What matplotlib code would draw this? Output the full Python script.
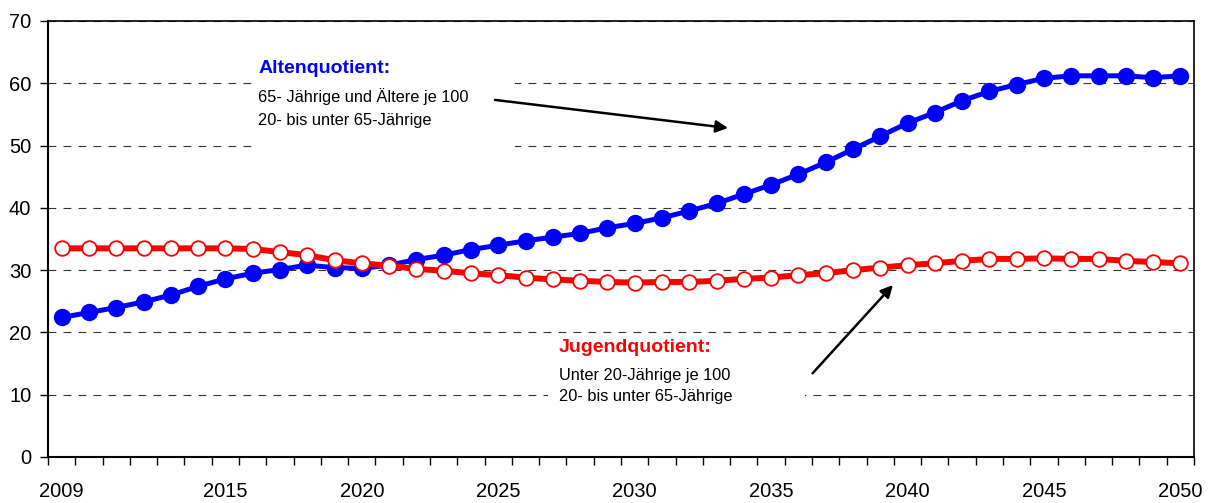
import numpy as np
import matplotlib
matplotlib.use("Agg")
import matplotlib.pyplot as plt
from matplotlib.patches import Rectangle
from matplotlib.ticker import FixedLocator

# Jahre (Kategorien)
years = list(range(2009, 2051))

# Altenquotient: 65-Jaehrige und Aeltere je 100 20- bis unter 65-Jaehrige
alten = [22.4, 23.2, 24.0, 24.9, 26.0, 27.4, 28.6, 29.5, 30.1, 30.8,
         30.4, 30.3, 30.8, 31.7, 32.4, 33.3, 34.0, 34.7, 35.3, 35.9,
         36.8, 37.5, 38.4, 39.5, 40.7, 42.2, 43.7, 45.4, 47.3, 49.4,
         51.5, 53.6, 55.3, 57.2, 58.7, 59.8, 60.8, 61.2, 61.2, 61.2,
         60.9, 61.2]

# Jugendquotient: unter 20-Jaehrige je 100 20- bis unter 65-Jaehrige
jugend = [33.5, 33.5, 33.5, 33.5, 33.5, 33.5, 33.5, 33.4, 32.9, 32.4,
          31.6, 31.1, 30.7, 30.2, 29.9, 29.5, 29.2, 28.8, 28.5, 28.3,
          28.1, 28.0, 28.1, 28.1, 28.3, 28.6, 28.8, 29.2, 29.5, 30.0,
          30.4, 30.8, 31.1, 31.5, 31.8, 31.8, 31.9, 31.8, 31.8, 31.5,
          31.3, 31.1]

x_labels = [2009, 2015, 2020, 2025, 2030, 2035, 2040, 2045, 2050]
y_ticks = [0, 10, 20, 30, 40, 50, 60, 70]

tick_font = ["Liberation Sans Narrow", "Liberation Sans", "DejaVu Sans"]
text_font = ["Liberation Sans", "DejaVu Sans"]

fig = plt.figure(figsize=(12.14, 5.03), dpi=100)
ax = fig.add_axes([48 / 1214, 46 / 503, 1146 / 1214, 436 / 503])

ax.set_xlim(2008.5, 2050.5)
ax.set_ylim(0, 70)

# gridlines
ax.set_axisbelow(True)
ax.yaxis.grid(True, color="#333333", lw=0.8, linestyle=(0, (7, 6.5)))
ax.xaxis.grid(False)

# white boxes behind the annotation texts (they hide the gridlines)
ax.add_patch(Rectangle((0.1806, 0.704), 0.2269, 0.206, transform=ax.transAxes,
                       facecolor="white", edgecolor="none", zorder=1))
ax.add_patch(Rectangle((0.4363, 0.126), 0.2243, 0.154, transform=ax.transAxes,
                       facecolor="white", edgecolor="none", zorder=1))

ax.plot(years, alten, color="#0000FF", lw=3.6, marker="o", ms=11.5,
        markerfacecolor="#0000FF", markeredgecolor="#0000FF", zorder=3)
ax.plot(years, jugend, color="#FF0000", lw=4.3, marker="o", ms=10.5,
        markerfacecolor="white", markeredgecolor="#FF0000", mew=1.3, zorder=4)

# ticks
ax.set_yticks(y_ticks)
ax.set_xticks(x_labels)
ax.xaxis.set_minor_locator(FixedLocator(np.arange(2008.5, 2051, 1.0)))
ax.tick_params(axis="x", which="major", length=0, pad=18)
ax.tick_params(axis="x", which="minor", length=6, width=1.0, direction="out")
ax.tick_params(axis="y", which="major", length=6, width=1.0, direction="out", pad=6)
for lab in ax.get_xticklabels() + ax.get_yticklabels():
    lab.set_family(tick_font)
    lab.set_fontsize(14.5)

for side in ["left", "bottom"]:
    ax.spines[side].set_linewidth(1.5)
for side in ["top", "right"]:
    ax.spines[side].set_linewidth(1.2)

# annotations
ax.text(0.1833, 0.892, "Altenquotient:", transform=ax.transAxes, color="#0000FF",
        fontsize=14, fontweight="bold", family=text_font, va="center", zorder=5)
ax.text(0.1833, 0.826, "65- Jährige und Ältere je 100", transform=ax.transAxes,
        fontsize=11.8, family=text_font, va="center", zorder=5)
ax.text(0.1833, 0.771, "20- bis unter 65-Jährige", transform=ax.transAxes,
        fontsize=11.8, family=text_font, va="center", zorder=5)

ax.text(0.446, 0.252, "Jugendquotient:", transform=ax.transAxes, color="#FF0000",
        fontsize=14, fontweight="bold", family=text_font, va="center", zorder=5)
ax.text(0.446, 0.188, "Unter 20-Jährige je 100", transform=ax.transAxes,
        fontsize=11.8, family=text_font, va="center", zorder=5)
ax.text(0.446, 0.138, "20- bis unter 65-Jährige", transform=ax.transAxes,
        fontsize=11.8, family=text_font, va="center", zorder=5)

arrow = dict(arrowstyle="-|>", color="black", lw=1.8, mutation_scale=18,
             shrinkA=0, shrinkB=0)
ax.annotate("", xy=(0.5934, 0.7546), xytext=(0.390, 0.819),
            xycoords="axes fraction", textcoords="axes fraction",
            arrowprops=arrow, zorder=6)
ax.annotate("", xy=(0.7373, 0.3945), xytext=(0.6672, 0.192),
            xycoords="axes fraction", textcoords="axes fraction",
            arrowprops=arrow, zorder=6)

fig.savefig("out.png", dpi=100, facecolor="white")
